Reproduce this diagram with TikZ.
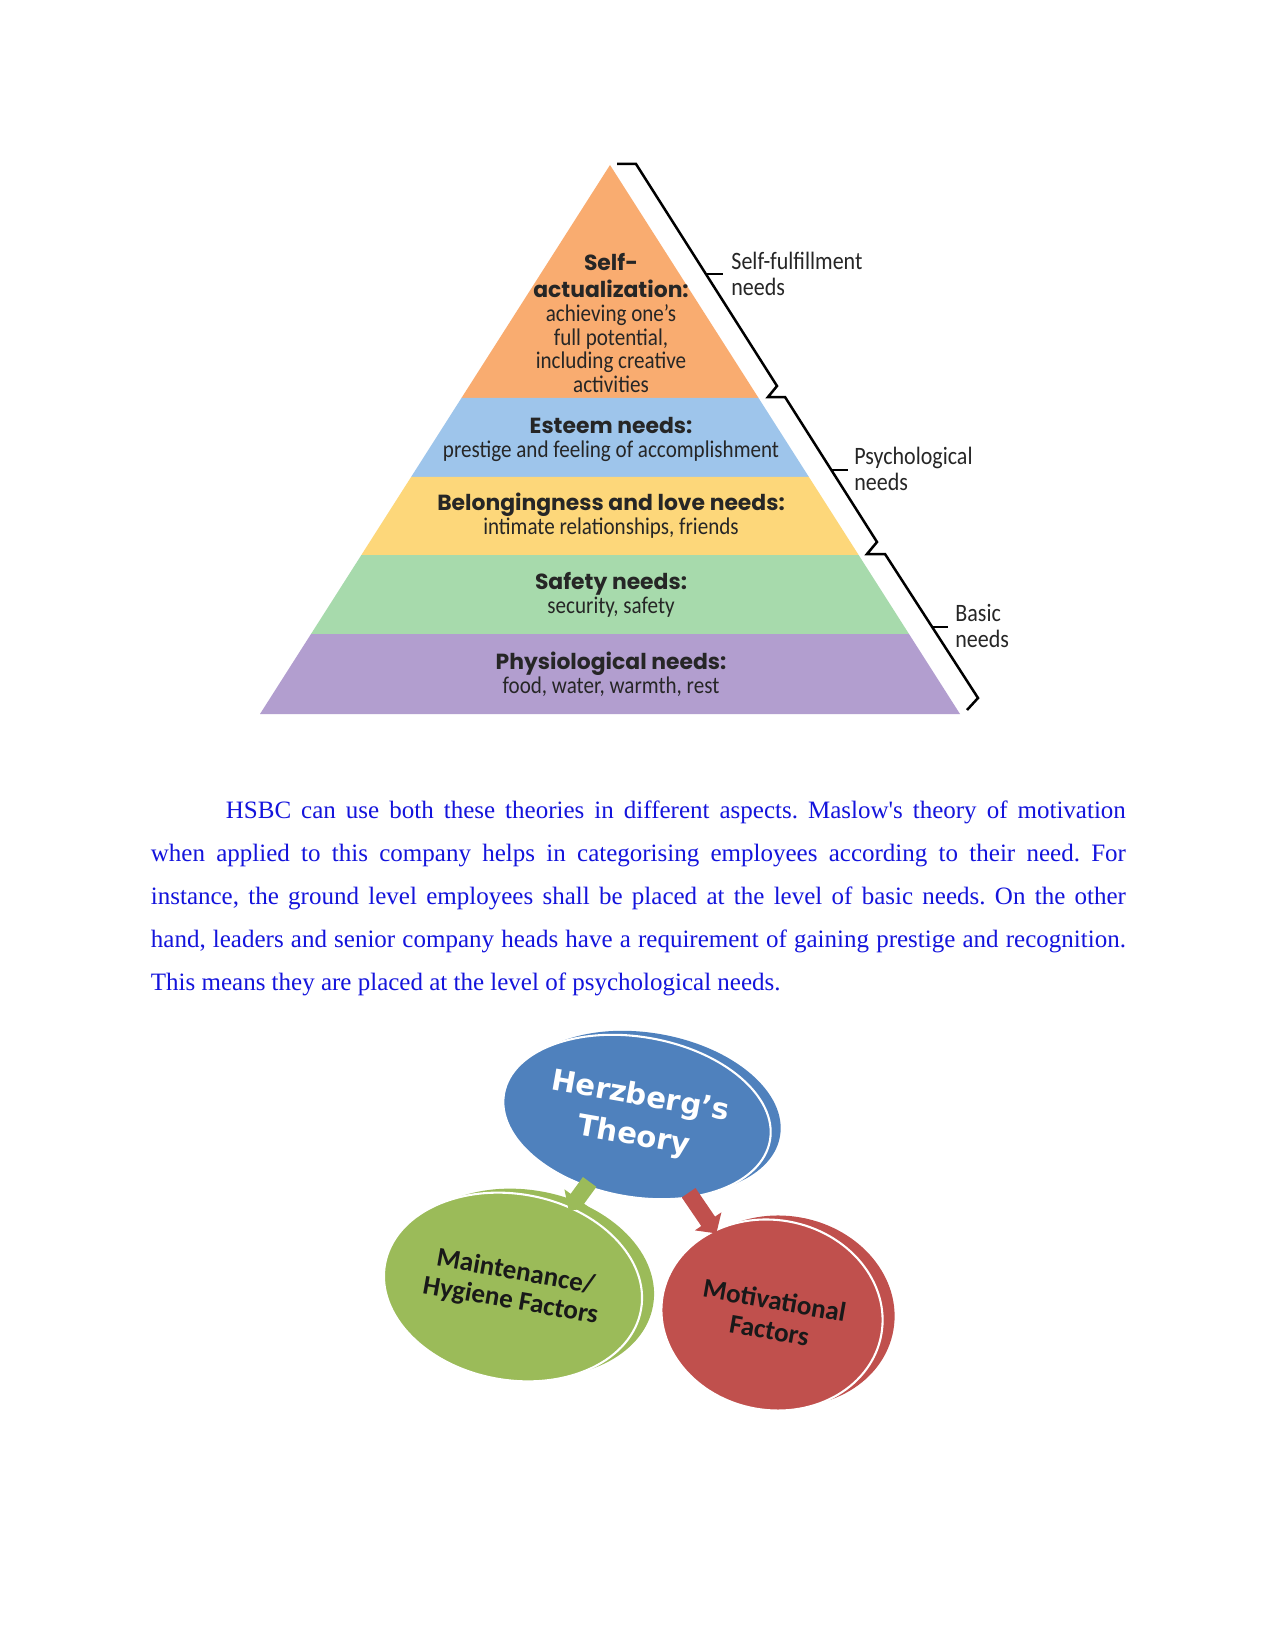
\documentclass[tikz,border=0pt]{standalone}
\usepackage{fontspec}
\setmainfont{Liberation Serif}
\newfontfamily\pyrfont{Carlito}[FakeStretch=0.88]
\newfontfamily\pyrhead{Poppins}
\newfontfamily\herzfont{DejaVu Sans}
\newfontfamily\factfont{Carlito}
\usepackage{tikz}
\usetikzlibrary{shapes.geometric, arrows.meta, positioning, calc}
\definecolor{layorange}{RGB}{249,172,112}
\definecolor{layblue}{RGB}{158,197,235}
\definecolor{layyellow}{RGB}{253,215,122}
\definecolor{laygreen}{RGB}{167,218,172}
\definecolor{laypurple}{RGB}{178,158,207}
\definecolor{textblue}{RGB}{20,20,220}
\definecolor{herzblue}{RGB}{79,129,189}
\definecolor{hygreen}{RGB}{155,187,89}
\definecolor{motred}{RGB}{192,80,77}
\newcommand{\layhead}[1]{{\pyrhead\bfseries\fontsize{10.5}{11.5}\selectfont #1}}
\newcommand{\laybody}[1]{{\pyrfont\fontsize{11.5}{11.5}\selectfont #1}}
\tikzstyle{layertext} = [align=center, inner sep=0pt, text=black!85, font=\fontsize{11.5}{11.5}\selectfont]
\tikzstyle{needlabel} = [anchor=west, align=left, inner sep=0pt, text=black!85, font=\pyrfont\fontsize{12}{12.5}\selectfont]
\tikzstyle{brace} = [line width=1.2pt, line join=miter]
\tikzstyle{rim} = [ellipse, inner sep=0pt, rotate=-10]
\tikzstyle{bubble} = [ellipse, inner sep=0pt, align=center, rotate=-10, draw=white, line width=1pt]
\tikzstyle{blockarrow} = [line width=8pt, -{Triangle[width=15pt,length=7pt]}, shorten <=-3pt, shorten >=-2pt]
\tikzstyle{para} = [anchor=base west, text width=468pt, align=justify, inner sep=0pt, text=textblue, font=\fontsize{12}{20.7}\selectfont\frenchspacing]

\begin{document}
\begin{tikzpicture}[x=0.48pt, y=-0.48pt]
    \fill[white] (0,0) rectangle (1275,1651);
    \useasboundingbox (0,0) rectangle (1275,1651);

    % Pyramid
    \coordinate (apex) at (610,165);
    \coordinate (bl) at (260,714);
    \coordinate (br) at (960,714);
    \foreach \t [count=\i] in {0.4244,0.5683,0.7104,0.8543} {
        \coordinate (l\i) at ($(apex)!\t!(bl)$);
        \coordinate (r\i) at ($(apex)!\t!(br)$);
    }
    \fill[layorange] (apex) -- (l1) -- (r1) -- cycle;
    \fill[layblue] (l1) -- (l2) -- (r2) -- (r1) -- cycle;
    \fill[layyellow] (l2) -- (l3) -- (r3) -- (r2) -- cycle;
    \fill[laygreen] (l3) -- (l4) -- (r4) -- (r3) -- cycle;
    \fill[laypurple] (l4) -- (bl) -- (br) -- (r4) -- cycle;

    % Layer texts
    \node (selfact) [layertext] at (611,323) {\layhead{Self-}\\[1.5pt]\layhead{actualization:}\\\laybody{achieving one’s}\\\laybody{full potential,}\\\laybody{including creative}\\\laybody{activities}};
    \node (esteem) [layertext] at (611,439) {\layhead{Esteem needs:}\\\laybody{prestige and feeling of accomplishment}};
    \node (belong) [layertext] at (611,516) {\layhead{Belongingness and love needs:}\\\laybody{intimate relationships, friends}};
    \node (safety) [layertext] at (611,595) {\layhead{Safety needs:}\\\laybody{security, safety}};
    \node (physio) [layertext] at (611,674) {\layhead{Physiological needs:}\\\laybody{food, water, warmth, rest}};

    % Braces
    \draw[brace] (617,164) -- (636,164) -- (777,386) -- (768,397) -- (785,397) -- (877,542) -- (867,554) -- (885,554) -- (978,698) -- (967,710);
    \draw[brace] (706,274) -- (723,274);
    \draw[brace] (831,470) -- (848,470);
    \draw[brace] (932,627) -- (948,627);
    \node (selffulf) [needlabel] at (731,274) {Self-fulfillment\\needs};
    \node (psych) [needlabel] at (854,469) {Psychological\\needs};
    \node (basic) [needlabel] at (955,626) {Basic\\needs};

    % Paragraph
    \node (para) [para] at (150.5,818) {\hspace*{36pt}HSBC can use both these theories in different aspects. Maslow\textquotesingle s theory of motivation\linebreak when applied to this company helps in categorising employees according to their need. For\linebreak instance, the ground level employees shall be placed at the level of basic needs. On the other\linebreak hand, leaders and senior company heads have a requirement of gaining prestige and recognition.\linebreak This means they are placed at the level of psychological needs.};

    % Herzberg
    \node (herzrim) [rim, fill=herzblue, minimum width=129.6pt, minimum height=76.8pt] at (647,1113) {};
    \node (hygrim) [rim, fill=hygreen, minimum width=124.8pt, minimum height=89.3pt] at (525,1283) {};
    \node (motrim) [rim, fill=motred, minimum width=106.6pt, minimum height=91.2pt] at (784,1311) {};
    \node (herz) [bubble, fill=herzblue, minimum width=129.6pt, minimum height=76.8pt, text=white, font=\herzfont\bfseries\fontsize{14}{19.2}\selectfont] at (637,1117) {Herzberg’s\\Theory};
    \node (hyg) [bubble, fill=hygreen, minimum width=124.8pt, minimum height=89.3pt, text=black!90, font=\factfont\bfseries\fontsize{13}{14}\selectfont] at (513,1287) {Maintenance/\\Hygiene Factors};
    \node (motiv) [bubble, fill=motred, minimum width=106.6pt, minimum height=91.2pt, text=black!90, font=\factfont\bfseries\fontsize{13}{14.4}\selectfont] at (772,1315) {Motivational\\Factors};

    % Arrows
    \draw [blockarrow, hygreen] (herz) -- (hyg);
    \draw [blockarrow, motred] (herz) -- (motiv);
\end{tikzpicture}
\end{document}
